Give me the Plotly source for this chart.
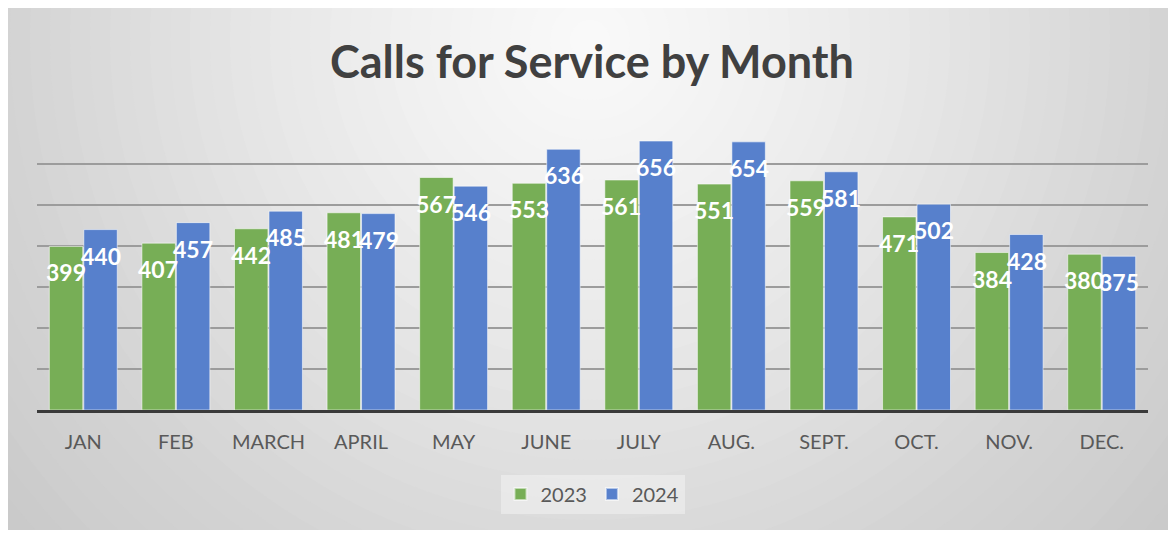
import plotly.graph_objects as go

months = ["JAN", "FEB", "MARCH", "APRIL", "MAY", "JUNE", "JULY", "AUG.", "SEPT.", "OCT.", "NOV.", "DEC."]
calls_2023 = [399, 407, 442, 481, 567, 553, 561, 551, 559, 471, 384, 380]
calls_2024 = [440, 457, 485, 479, 546, 636, 656, 654, 581, 502, 428, 375]

# page body adds an 8px offset; figure sized to fit the window
W, H = 1168, 525
ML, MR, MT, MB = 29, 28, 115, 123
PW, PH = W - ML - MR, H - MT - MB

GREEN = "#77ae56"
BLUE = "#5780cc"

fig = go.Figure()
fig.add_trace(go.Bar(name="2023", x=months, y=calls_2023, marker=dict(color=GREEN, line=dict(color="rgba(255,255,255,0.55)", width=1))))
fig.add_trace(go.Bar(name="2024", x=months, y=calls_2024, marker=dict(color=BLUE, line=dict(color="rgba(255,255,255,0.55)", width=1))))

# value labels
for m, a, b in zip(months, calls_2023, calls_2024):
    for val, xs in ((a, -17.5), (b, 17.5)):
        fig.add_annotation(x=m, y=val, xref="x", yref="y", text=str(val), showarrow=False,
                           xshift=xs, yshift=-26, yanchor="middle",
                           font=dict(family="Lato", size=23, color="white", weight="bold"))

# background radial gradient (decorative)
def px_to_paper_x(px):
    return (px - ML) / PW

def px_to_paper_y(py):
    return (H - MB - py) / PH

cx, cy = 582, 32
stops = [(0, 250), (150, 243), (300, 233), (450, 222), (600, 211), (800, 200), (1000, 196)]

def shade(r):
    for (r0, c0), (r1, c1) in zip(stops, stops[1:]):
        if r <= r1:
            t = (r - r0) / (r1 - r0)
            return c0 + t * (c1 - c0)
    return stops[-1][1]

shapes = []
for r in range(1000, 0, -20):
    c = int(round(shade(r)))
    shapes.append(dict(type="circle", xref="paper", yref="paper", layer="below",
                       x0=px_to_paper_x(cx - r), x1=px_to_paper_x(cx + r),
                       y0=px_to_paper_y(cy + r), y1=px_to_paper_y(cy - r),
                       fillcolor=f"rgb({c},{c},{c})", line=dict(width=0)))
# white strip at the bottom
shapes.append(dict(type="rect", xref="paper", yref="paper", layer="below",
                   x0=px_to_paper_x(-10), x1=px_to_paper_x(W + 10),
                   y0=px_to_paper_y(H + 10), y1=px_to_paper_y(522),
                   fillcolor="white", line=dict(width=0)))

fig.update_layout(
    width=W, height=H,
    margin=dict(l=ML, r=MR, t=MT, b=MB),
    paper_bgcolor="white",
    plot_bgcolor="rgba(0,0,0,0)",
    barmode="group", bargap=0.255, bargroupgap=0.03,
    shapes=shapes,
    title=dict(text="Calls for Service by Month", x=(592 - 8) / W, xanchor="center", xref="container",
               y=1 - 54 / H, yanchor="middle", yref="container",
               font=dict(family="Lato", size=45, color="#404040", weight="bold")),
    showlegend=True,
    legend=dict(orientation="h", x=0.5, xanchor="center", y=(H - MB - 486) / PH, yanchor="middle",
                bgcolor="rgba(242,242,242,0.55)", font=dict(family="Lato", size=20, color="#595959"),
                traceorder="normal", itemsizing="constant"),
    xaxis=dict(showgrid=False, showline=True, linecolor="#3a3a3a", linewidth=3,
               tickfont=dict(family="Lato", size=20, color="#595959"), ticks="",
               ticklabelstandoff=12),
    yaxis=dict(range=[0, 700], dtick=100, showgrid=True, gridcolor="#9c9c9c", gridwidth=1.5,
               showticklabels=False, zeroline=False, ticks=""),
)

fig.write_html("out.html")
